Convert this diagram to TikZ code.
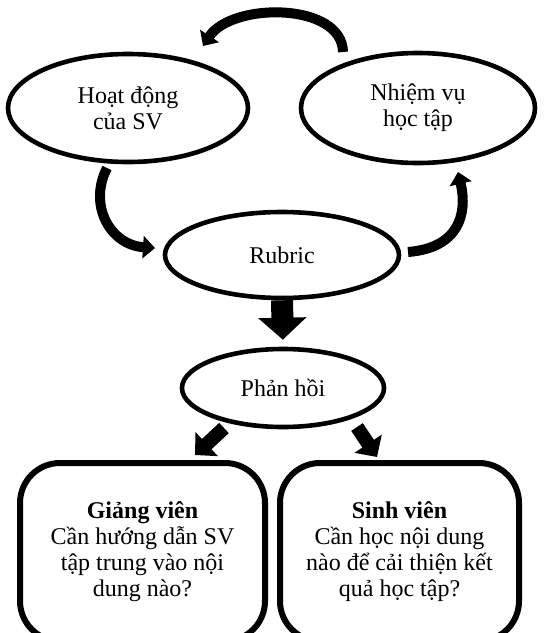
\documentclass[tikz,border=0pt]{standalone}
\usepackage{fontspec}
\setmainfont{Liberation Serif}
\usetikzlibrary{arrows.meta,shapes.geometric}

\begin{document}
\begin{tikzpicture}[x=0.5pt,y=-0.5pt,font=\fontsize{12pt}{13pt}\selectfont]
\tikzstyle{oval}=[ellipse,draw=black,line width=2.3pt,align=center,inner sep=0pt]
\tikzstyle{box}=[rectangle,rounded corners=20pt,draw=black,line width=3pt,align=center,minimum height=89pt]
\tikzstyle{curved}=[line width=5pt,-{Triangle[length=6pt,width=11pt]}]
\tikzstyle{block}=[line width=11pt,-{Triangle[length=11pt,width=23.5pt]}]
\tikzstyle{diag}=[line width=7pt,-{Triangle[length=8pt,width=16pt]}]
\useasboundingbox (0,0) rectangle (549,633);

\node[oval,minimum width=120pt,minimum height=54pt] (hd) at (128,108) {Hoạt động\\của SV};
\node[oval,minimum width=117pt,minimum height=55pt] (nv) at (418,108) {Nhiệm vụ\\học tập};
\node[oval,minimum width=117pt,minimum height=43pt] (rub) at (282,255) {Rubric};
\node[oval,minimum width=101pt,minimum height=39pt] (ph) at (283,388) {Phản hồi};
\node[box,minimum width=122.5pt] (gv) at (142.5,552) {\textbf{Giảng viên}\\Cần hướng dẫn SV\\tập trung vào nội\\dung nào?};
\node[box,minimum width=119.5pt] (sv) at (399.5,552) {\textbf{Sinh viên}\\Cần học nội dung\\nào để cải thiện kết\\quả học tập?};

\coordinate (nvtop) at (343,52);
\coordinate (hdtop) at (203,46);
\coordinate (hdbot) at (107,168);
\coordinate (rubl) at (155,248);
\coordinate (rubr) at (408,252);
\coordinate (nvbot) at (458,172);
\coordinate (phl) at (224,428);
\coordinate (gvtip) at (195,455);
\coordinate (phr) at (357,427);
\coordinate (svtip) at (377,457);

\draw[curved] (nvtop) .. controls (342,2) and (232,2) .. (hdtop);
\draw[curved] (hdbot) .. controls (88,205) and (110,245) .. (rubl);
\draw[curved] (rubr) .. controls (458,248) and (468,215) .. (nvbot);
\draw[block,shorten >=3.5pt] (rub.south) -- (ph.north);
\draw[diag] (phl) -- (gvtip);
\draw[diag] (phr) -- (svtip);

\end{tikzpicture}
\end{document}
